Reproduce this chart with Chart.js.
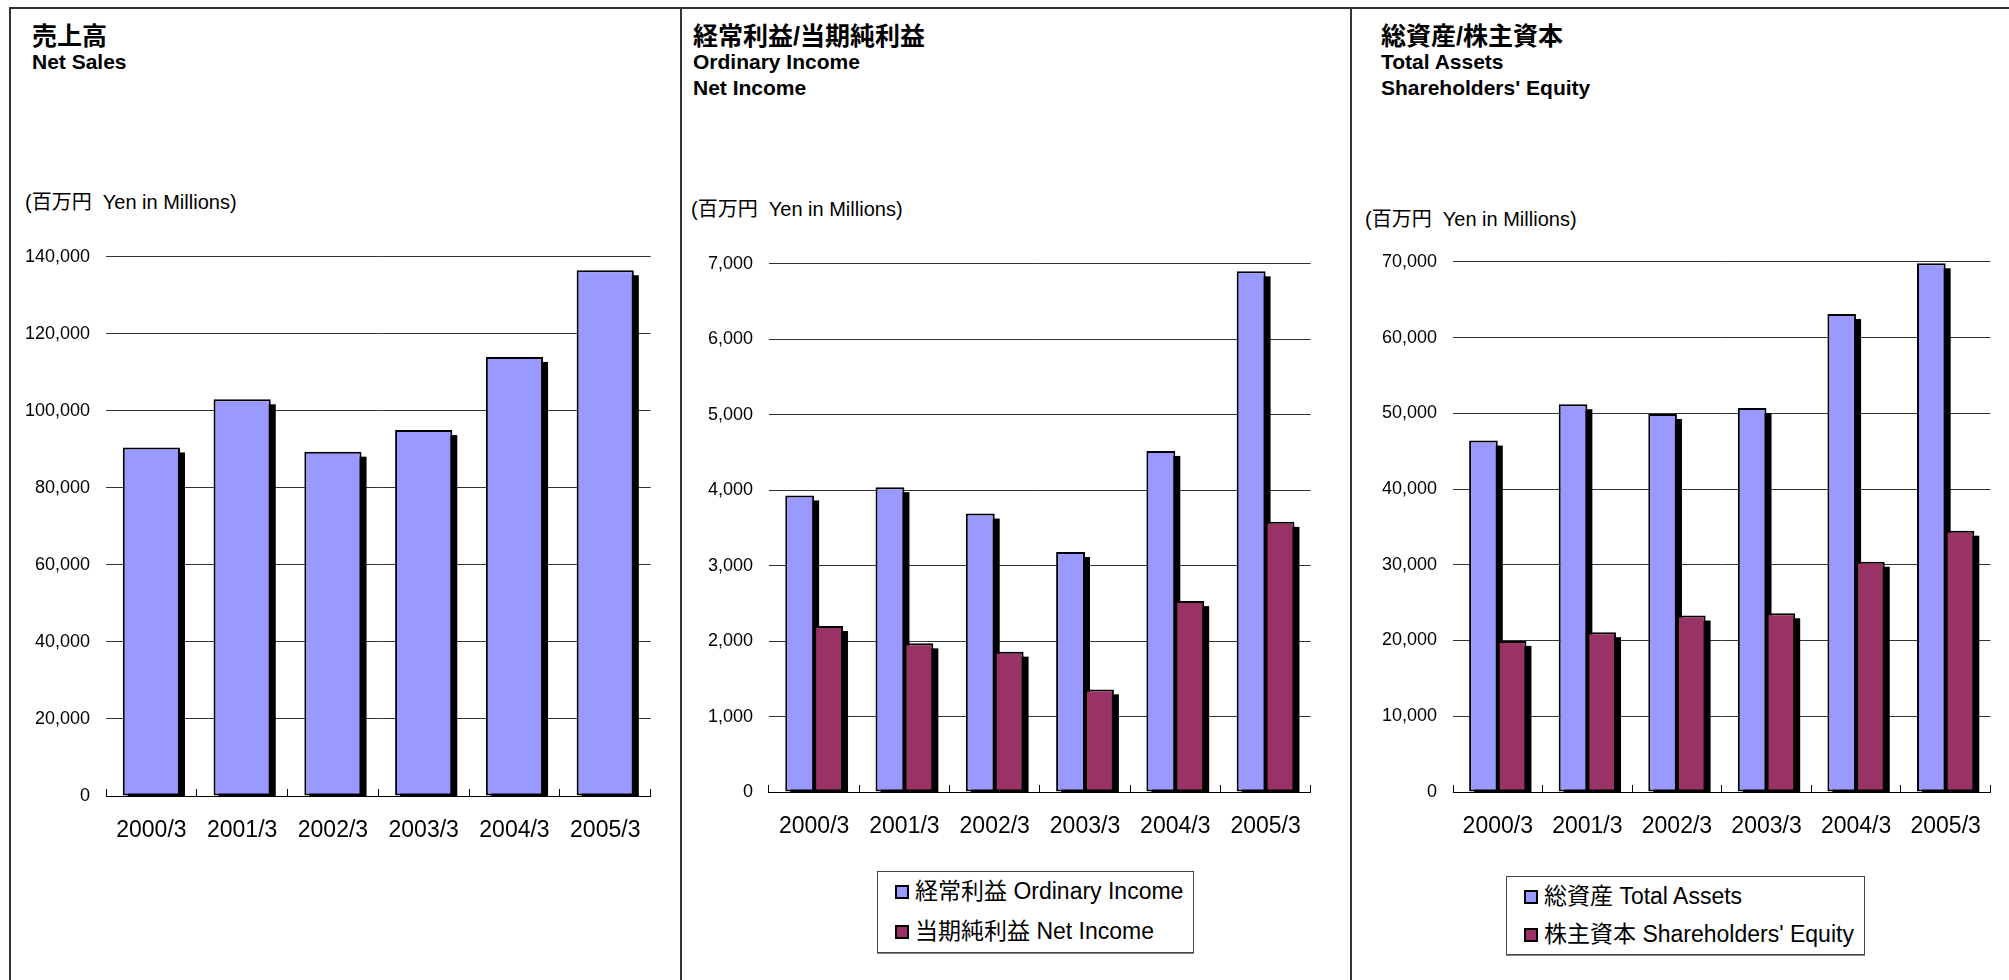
<!DOCTYPE html>
<html>
<head>
<meta charset="utf-8">
<script src="https://cdn.jsdelivr.net/npm/chart.js@4/dist/chart.umd.min.js"></script>
<style>
  body { margin: 0; background: #fff; width: 2009px; height: 980px; overflow: hidden; position: relative;
         font-family: "Liberation Sans", Arial, "Noto Sans CJK JP", sans-serif; color: #000; }
  .frame { position: absolute; left: 9px; top: 7px; width: 2020px; height: 1000px; border-left: 2px solid #333; border-top: 2px solid #333; }
  .divider { position: absolute; top: 7px; width: 2px; height: 980px; background: #333; }
  .title { position: absolute; font-weight: bold; white-space: nowrap; }
  .title div { height: 26px; line-height: 26px; font-size: 21px; }
  .title div.jp { font-size: 25px; }
  .unit { position: absolute; font-size: 20px; line-height: 22px; white-space: pre; }
  canvas { position: absolute; }
  .legend { position: absolute; border: 1px solid #444; box-shadow: 0 1px 0 #888; background: #fff; }
  .legend div { position: absolute; left: 17px; font-size: 23px; line-height: 26px; white-space: nowrap; }
  .legend span { display: inline-block; width: 10px; height: 10px; border: 2px solid #000; margin-right: 6px; vertical-align: 0px; }
</style>
</head>
<body>
<div class="frame"></div>
<div class="divider" style="left:680px"></div>
<div class="divider" style="left:1350px"></div>

<div class="title" style="left:32px; top:23px"><div class="jp">売上高</div><div>Net Sales</div></div>
<div class="unit" style="left:25px; top:191px">(百万円  Yen in Millions)</div>
<canvas id="salesChart" width="660" height="632" style="left:10px; top:230px"></canvas>

<div class="title" style="left:693px; top:23px"><div class="jp">経常利益/当期純利益</div><div>Ordinary Income</div><div>Net Income</div></div>
<div class="unit" style="left:691px; top:198px">(百万円  Yen in Millions)</div>
<canvas id="incomeChart" width="640" height="621" style="left:690px; top:237px"></canvas>
<div class="legend" id="incomeLegend" style="left:877px; top:871px; width:315px; height:80px"></div>

<div class="title" style="left:1381px; top:23px"><div class="jp">総資産/株主資本</div><div>Total Assets</div><div>Shareholders' Equity</div></div>
<div class="unit" style="left:1365px; top:208px">(百万円  Yen in Millions)</div>
<canvas id="assetsChart" width="649" height="623" style="left:1360px; top:235px"></canvas>
<div class="legend" id="assetsLegend" style="left:1506px; top:876px; width:357px; height:77px"></div>

<script>
// fiscal years (March year-end)
const years = ['2000/3', '2001/3', '2002/3', '2003/3', '2004/3', '2005/3'];

// Yen in millions
const netSales = [90500, 103000, 89400, 95000, 114000, 136500];
const ordinaryIncome = [3930, 4040, 3690, 3180, 4520, 6900];
const netIncome = [2200, 1970, 1860, 1360, 2530, 3580];
const totalAssets = [46400, 51200, 49900, 50700, 63100, 69800];
const equity = [19950, 21100, 23300, 23600, 30400, 34500];

const incomeLabels = ['経常利益 Ordinary Income', '当期純利益 Net Income'];
const assetsLabels = ['総資産 Total Assets', '株主資本 Shareholders\' Equity'];

const BLUE = '#9999FF';
const MAROON = '#993366';
const FONT = '"Liberation Sans", Arial, sans-serif';

Chart.defaults.devicePixelRatio = 1;
Chart.defaults.font.family = FONT;
Chart.defaults.color = '#000';

// black drop shadow behind every bar, drawn before the bars themselves
const barShadow = {
    id: 'barShadow',
    beforeDatasetsDraw(chart) {
        const { ctx, chartArea } = chart;
        ctx.save();
        ctx.beginPath();
        ctx.rect(chartArea.left, chartArea.top, chartArea.right - chartArea.left, chartArea.bottom - chartArea.top);
        ctx.clip();
        ctx.fillStyle = '#000';
        chart.data.datasets.forEach((ds, i) => {
            chart.getDatasetMeta(i).data.forEach(bar => {
                const { x, y, base, width } = bar.getProps(['x', 'y', 'base', 'width'], true);
                ctx.fillRect(x - width / 2 + 5, y + 5, width, base - y);
            });
        });
        ctx.restore();
    }
};

function barSet(label, data, color) {
    return {
        label: label,
        data: data,
        backgroundColor: color,
        borderColor: '#000',
        borderWidth: 2,
        borderSkipped: false,
        barPercentage: 1,
        clip: 0
    };
}

function makeChart(id, datasets, max, step, yWidth, pad, catPct) {
    return new Chart(document.getElementById(id).getContext('2d'), {
        type: 'bar',
        data: { labels: years, datasets: datasets },
        plugins: [barShadow],
        options: {
            responsive: false,
            animation: false,
            layout: { padding: { top: 15, right: pad, bottom: 0, left: 0 } },
            datasets: { bar: { categoryPercentage: catPct } },
            plugins: { legend: { display: false }, tooltip: { enabled: false } },
            scales: {
                x: {
                    border: { display: true, color: '#000', width: 1 },
                    grid: { drawOnChartArea: false, drawTicks: true, tickLength: -7, color: '#000' },
                    ticks: { font: { size: 23 }, padding: 28, color: '#000' },
                    afterFit: s => { s.height = 66; }
                },
                y: {
                    min: 0,
                    max: max,
                    border: { display: false },
                    grid: { drawTicks: false, color: '#333', lineWidth: 1 },
                    ticks: {
                        stepSize: step,
                        font: { size: 18 },
                        padding: 16,
                        color: '#000',
                        callback: v => v.toLocaleString('en-US')
                    },
                    afterFit: s => { s.width = yWidth; }
                }
            }
        }
    });
}

// Net Sales
makeChart('salesChart', [barSet('売上高 Net Sales', netSales, BLUE)], 140000, 20000, 96, 19, 0.63);

// Ordinary Income / Net Income
makeChart('incomeChart', [
    barSet(incomeLabels[0], ordinaryIncome, BLUE),
    barSet(incomeLabels[1], netIncome, MAROON)
], 7000, 1000, 79, 15, 0.64);

// Total Assets / Shareholders' Equity
makeChart('assetsChart', [
    barSet(assetsLabels[0], totalAssets, BLUE),
    barSet(assetsLabels[1], equity, MAROON)
], 70000, 10000, 93, 2, 0.64);

// boxed legends below the two grouped charts
function buildLegend(id, labels, tops) {
    const box = document.getElementById(id);
    const colors = [BLUE, MAROON];
    labels.forEach((text, i) => {
        const row = document.createElement('div');
        row.style.top = tops[i] + 'px';
        const sw = document.createElement('span');
        sw.style.background = colors[i];
        row.appendChild(sw);
        row.appendChild(document.createTextNode(text));
        box.appendChild(row);
    });
}
buildLegend('incomeLegend', incomeLabels, [6, 46]);
buildLegend('assetsLegend', assetsLabels, [6, 44]);
</script>
</body>
</html>
